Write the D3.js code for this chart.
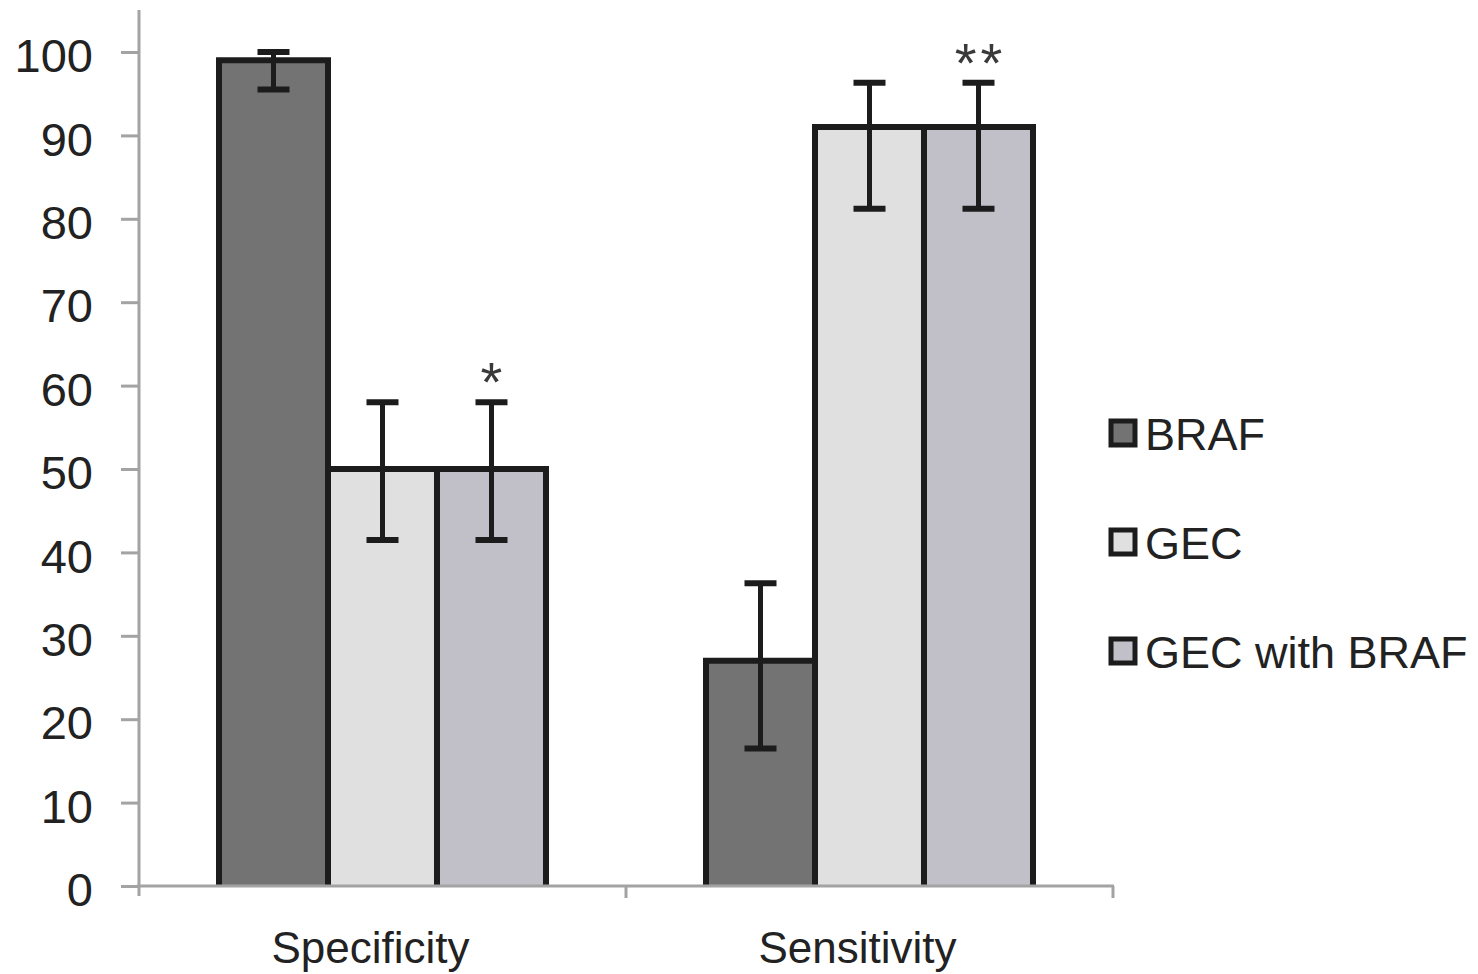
<!DOCTYPE html>
<html>
<head>
<meta charset="utf-8">
<script src="https://cdn.jsdelivr.net/npm/d3@7"></script>
<style>
  html, body { margin: 0; padding: 0; background: #fff; }
  svg { display: block; font-family: "Liberation Sans", Arial, sans-serif; }
</style>
</head>
<body>
<svg id="chart" width="1478" height="974"></svg>
<script>
// Diagnostic performance (%) of BRAF, GEC and the combined test
const categories = ["Specificity", "Sensitivity"];
const series = ["BRAF", "GEC", "GEC with BRAF"];
const seriesColors = ["#737373", "#e0e0e0", "#c1c0c9"];

const braf = [99, 27];
const gec = [50, 91];
const gecBraf = [50, 91];

// error bar extents (lower, upper)
const brafLow = [95.5, 16.5];
const brafHigh = [100, 36.3];
const gecLow = [41.5, 81.2];
const gecHigh = [58, 96.3];
const gecBrafLow = [41.5, 81.2];
const gecBrafHigh = [58, 96.3];

// significance markers above the combined test
const markers = ["*", "**"];

const yTicks = [0, 10, 20, 30, 40, 50, 60, 70, 80, 90, 100];

const values = [braf, gec, gecBraf];
const lows = [brafLow, gecLow, gecBrafLow];
const highs = [brafHigh, gecHigh, gecBrafHigh];

const svg = d3.select("#chart");

const x0 = d3.scaleBand().domain(categories).range([139, 1113]).paddingInner(0).paddingOuter(0);
const x1 = d3.scaleBand().domain(series).range([0, x0.bandwidth()]).paddingInner(0).paddingOuter(0.734);
const y = d3.scaleLinear().domain([0, 100]).range([886, 52]);
const color = d3.scaleOrdinal().domain(series).range(seriesColors);

const axisColor = "#a3a3a3";
const inkColor = "#1c1c1c";
const textColor = "#222";

// bars
const rows = [];
categories.forEach((c, ci) => {
  series.forEach((s, si) => {
    rows.push({ c, s, v: values[si][ci], lo: lows[si][ci], hi: highs[si][ci] });
  });
});

const bars = svg.append("g");
bars.selectAll("rect").data(rows).join("rect")
  .attr("x", d => x0(d.c) + x1(d.s))
  .attr("y", d => y(d.v))
  .attr("width", x1.bandwidth())
  .attr("height", d => y(0) - y(d.v))
  .attr("fill", d => color(d.s));

bars.selectAll("path").data(rows).join("path")
  .attr("d", d => {
    const xl = x0(d.c) + x1(d.s), xr = xl + x1.bandwidth();
    return `M${xl},${y(0)}V${y(d.v)}H${xr}V${y(0)}`;
  })
  .attr("fill", "none")
  .attr("stroke", inkColor)
  .attr("stroke-width", 6)
  .attr("stroke-linejoin", "miter");

// error bars
const cap = 16;
const eb = svg.append("g").attr("stroke", inkColor).attr("stroke-width", 5).attr("fill", "none");
rows.forEach(d => {
  const cx = x0(d.c) + x1(d.s) + x1.bandwidth() / 2;
  eb.append("line").attr("x1", cx).attr("x2", cx).attr("y1", y(d.hi)).attr("y2", y(d.lo));
  eb.append("line").attr("x1", cx - cap).attr("x2", cx + cap).attr("y1", y(d.hi)).attr("y2", y(d.hi)).attr("stroke-width", 6);
  eb.append("line").attr("x1", cx - cap).attr("x2", cx + cap).attr("y1", y(d.lo)).attr("y2", y(d.lo)).attr("stroke-width", 6);
});

// significance markers
categories.forEach((c, ci) => {
  const cx = x0(c) + x1("GEC with BRAF") + x1.bandwidth() / 2;
  svg.append("text")
    .attr("x", cx + 2)
    .attr("y", y(gecBrafHigh[ci]) - 1)
    .attr("text-anchor", "middle")
    .attr("font-size", 56)
    .attr("fill", "#3a3a3a")
    .attr("letter-spacing", 4)
    .text(markers[ci]);
});

// y axis
const yAxis = svg.append("g").attr("transform", "translate(139,0)")
  .call(d3.axisLeft(y).tickValues(yTicks).tickSize(18).tickPadding(28).tickFormat(d3.format("d")));
yAxis.select(".domain").remove();
yAxis.selectAll(".tick line").attr("stroke", axisColor).attr("stroke-width", 3);
yAxis.selectAll(".tick text").attr("font-size", 47).attr("fill", textColor)
  .attr("font-family", "Liberation Sans, Arial, sans-serif").attr("dy", "0.42em");
svg.append("line").attr("x1", 139).attr("x2", 139).attr("y1", 10).attr("y2", 896)
  .attr("stroke", axisColor).attr("stroke-width", 3);

// x axis
svg.append("line").attr("x1", 137).attr("x2", 1114).attr("y1", y(0)).attr("y2", y(0))
  .attr("stroke", axisColor).attr("stroke-width", 3);
const boundaries = [x0.range()[0] + x0.bandwidth(), x0.range()[1]];
boundaries.forEach(bx => {
  svg.append("line").attr("x1", bx).attr("x2", bx).attr("y1", y(0)).attr("y2", y(0) + 12)
    .attr("stroke", axisColor).attr("stroke-width", 3);
});
svg.append("g").selectAll("text").data(categories).join("text")
  .attr("x", d => x0(d) + x0.bandwidth() / 2 - 12)
  .attr("y", 963)
  .attr("text-anchor", "middle")
  .attr("font-size", 44)
  .attr("fill", textColor)
  .text(d => d);

// legend
const legend = svg.append("g").attr("transform", "translate(1108,0)");
series.forEach((s, i) => {
  const cy = 433 + i * 109;
  legend.append("rect").attr("x", 3).attr("y", cy - 12).attr("width", 24).attr("height", 24)
    .attr("fill", color(s)).attr("stroke", inkColor).attr("stroke-width", 5);
  legend.append("text").attr("x", 37).attr("y", cy + 17)
    .attr("font-size", 45).attr("fill", textColor).text(s);
});
</script>
</body>
</html>
